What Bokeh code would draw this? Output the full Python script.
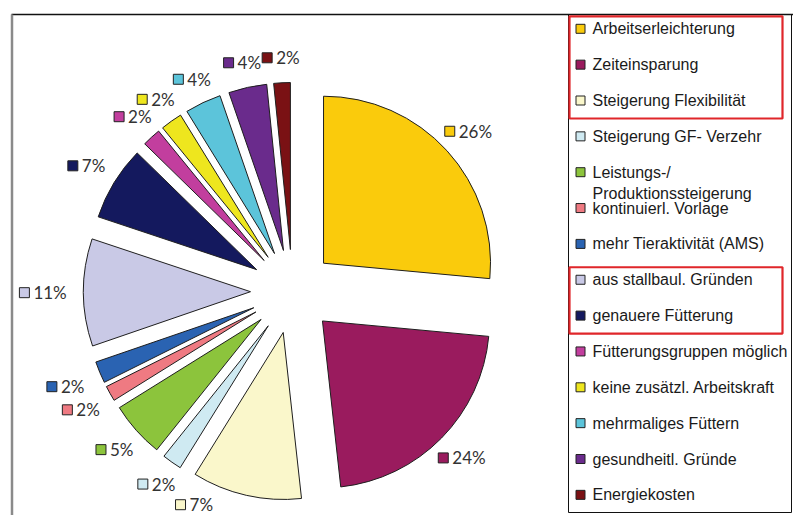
import math
from bokeh.plotting import figure
from bokeh.models import Range1d
from bokeh.core.properties import value
from bokeh.embed import file_html
from bokeh.resources import INLINE

# ---------------- data ----------------
categories = [
    "Arbeitserleichterung", "Zeiteinsparung", "Steigerung Flexibilität",
    "Steigerung GF- Verzehr", "Leistungs-/ Produktionssteigerung",
    "kontinuierl. Vorlage", "mehr Tieraktivität (AMS)", "aus stallbaul. Gründen",
    "genauere Fütterung", "Fütterungsgruppen möglich", "keine zusätzl. Arbeitskraft",
    "mehrmaliges Füttern", "gesundheitl. Gründe", "Energiekosten",
]
percent_labels = [26, 24, 7, 2, 5, 2, 2, 11, 7, 2, 2, 4, 4, 2]
# slice sizes as drawn in the picture (share of the circle, %)
slice_share = [26.5, 21.8, 10.6, 1.9, 5.4, 1.5, 2.1, 10.4, 7.2, 1.8, 2.1, 3.5, 3.7, 1.6]
colors = [
    "#FACB0C", "#9A1B5E", "#FAF7CB", "#CFEAF2", "#8CC43C", "#EF7A82", "#2A63B2",
    "#C9C9E6", "#14195E", "#C23E9E", "#EEE61E", "#5CC4DA", "#6A2B8C", "#7A1114",
]
highlight_groups = [[0, 1, 2], [7, 8]]

# ---------------- layout ----------------
W, H = 793, 515
def X(sx):
    return sx
def Y(sy):
    return H - sy

CX, CY = X(292), Y(291)
R = 167
EXPLODE = 42
RG = 226

p = figure(width=W, height=H, x_range=Range1d(0, W), y_range=Range1d(0, H),
           output_backend="svg", toolbar_location=None, min_border=0,
           x_axis_type=None, y_axis_type=None)
p.grid.visible = False
p.outline_line_color = None
p.background_fill_color = "white"
p.border_fill_color = "white"

total = sum(slice_share)
cum = 0.0
xs, ys, starts, ends, mids = [], [], [], [], []
for sh in slice_share:
    t1 = cum / total * 360.0
    cum += sh
    t2 = cum / total * 360.0
    tm = (t1 + t2) / 2
    mids.append(tm)
    r = math.radians(tm)
    xs.append(CX + EXPLODE * math.sin(r))
    ys.append(CY + EXPLODE * math.cos(r))
    starts.append(math.radians(90 - t2))
    ends.append(math.radians(90 - t1))

p.wedge(x=xs, y=ys, radius=R, start_angle=starts, end_angle=ends,
        fill_color=colors, line_color="#1e1e1e", line_width=1)

# ---------------- data labels ----------------
LBL_FONT = "17px"
DIG_W, PCT_W = 9.9, 13.3
SQ = 10
GAP = 4
LH = 16
YMIN = Y(505)
for i, (pc, tm) in enumerate(zip(percent_labels, mids)):
    txt = f"{pc}%"
    tw = DIG_W * len(str(pc)) + PCT_W
    w = SQ + GAP + tw
    th = tm
    while True:
        rr = math.radians(th)
        s, c = math.sin(rr), math.cos(rr)
        rad = RG + min(w / 2 / max(abs(s), 1e-6), LH / 2 / max(abs(c), 1e-6))
        lx, ly = CX + rad * s, CY + rad * c
        if ly >= YMIN:
            break
        th += 0.5 if th > 180 else -0.5
    left = lx - w / 2
    p.rect(x=left + SQ / 2, y=ly, width=SQ, height=SQ, fill_color=colors[i],
           line_color="#222222", line_width=1)
    p.text(x=[left + SQ + GAP], y=[ly], text=[txt], text_font=value("Lato"),
           text_font_size=LBL_FONT, text_color="#333333",
           text_align="left", text_baseline="middle")

# ---------------- frame ----------------
p.segment(x0=[X(11)], y0=[Y(14)], x1=[X(793)], y1=[Y(14)], line_color="#111111", line_width=1.5)
p.segment(x0=[X(11.5)], y0=[Y(14)], x1=[X(11.5)], y1=[Y(515)], line_color="#8a8a8a", line_width=2.5)
p.quad(left=[X(568)], right=[X(791)], top=[Y(14)], bottom=[Y(512)],
       fill_color=None, line_color="#111111", line_width=1)

# ---------------- legend ----------------
LEG_Y0, LEG_DY = 28.3, 35.85
leg_y = [LEG_Y0 + LEG_DY * i for i in range(len(categories))]
for i, name in enumerate(categories):
    sy = leg_y[i]
    p.rect(x=X(580), y=Y(sy), width=9, height=9, fill_color=colors[i],
           line_color="#222222", line_width=1)
    lines = name.replace("-/ ", "-/\n").split("\n")
    for k, ln in enumerate(lines):
        p.text(x=[X(592)], y=[Y(sy + 21 * k)], text=[ln], text_font=value("Liberation Sans"),
               text_font_size="16px", text_color="#1a1a1a",
               text_align="left", text_baseline="middle")

for grp in highlight_groups:
    top = leg_y[grp[0]] - 12.5
    bot = leg_y[grp[-1]] + 18
    p.quad(left=[X(569)], right=[X(782)], top=[Y(top)], bottom=[Y(bot)],
           fill_color=None, line_color="#E0262A", line_width=2.2)

open("out.html", "w").write(file_html(p, INLINE))
